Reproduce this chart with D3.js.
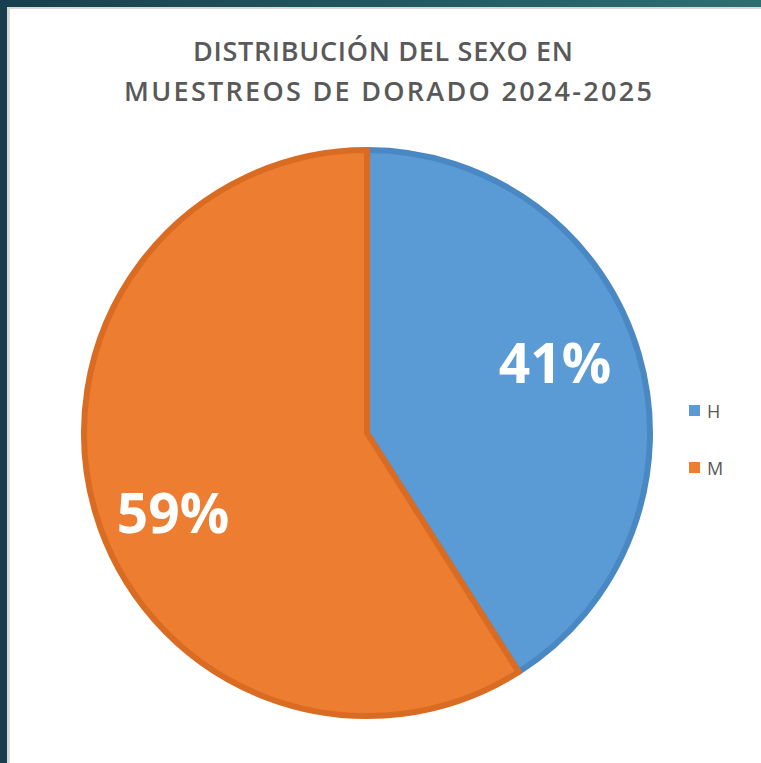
<!DOCTYPE html>
<html>
<head>
<meta charset="utf-8">
<script src="https://cdn.jsdelivr.net/npm/d3@7"></script>
<style>
  body { margin: 0; background: #ffffff; }
  svg { display: block; }
</style>
</head>
<body>
<div id="chart"></div>
<script>
// data
var categories = ["H", "M"];
var values = [41, 59];
var labels = ["41%", "59%"];
var titleLines = ["DISTRIBUCIÓN DEL SEXO EN", "MUESTREOS DE DORADO 2024-2025"];

var width = 761, height = 763;
var cx = 367, cy = 433, radius = 286;

var color = d3.scaleOrdinal()
    .domain(categories)
    .range(["#5b9bd5", "#ed7d31"]);
var stroke = d3.scaleOrdinal()
    .domain(categories)
    .range(["#4a88c4", "#d96c22"]);

var svg = d3.select("#chart")
    .append("svg")
    .attr("width", width)
    .attr("height", height);

// frame
var grad = svg.append("defs").append("linearGradient")
    .attr("id", "topband").attr("x1", "0").attr("x2", "1");
grad.append("stop").attr("offset", "0").attr("stop-color", "#173f4e");
grad.append("stop").attr("offset", "1").attr("stop-color", "#2e6f72");

svg.append("rect").attr("width", width).attr("height", height).attr("fill", "#ffffff");
svg.append("rect").attr("x", 0).attr("y", 0).attr("width", width).attr("height", 7).attr("fill", "url(#topband)");
svg.append("rect").attr("x", 0).attr("y", 0).attr("width", 7).attr("height", height).attr("fill", "#173f4e");
svg.append("rect").attr("x", 7).attr("y", 7).attr("width", 3).attr("height", height - 7).attr("fill", "#d9d9d9");
svg.append("rect").attr("x", 7).attr("y", 7).attr("width", width - 7).attr("height", 2).attr("fill", "#d9d9d9");

// title (widths)
var titleWidths = [380, 528];
svg.append("g").selectAll("text")
    .data(titleLines)
    .enter()
    .append("text")
    .attr("x", function(d, i) { return i === 0 ? 383 : 388; })
    .attr("y", function(d, i) { return 61 + i * 40; })
    .attr("text-anchor", "middle")
    .attr("textLength", function(d, i) { return titleWidths[i]; })
    .attr("lengthAdjust", "spacing")
    .style("font-family", "'Open Sans', sans-serif")
    .style("font-weight", "600")
    .style("font-size", "27px")
    .style("fill", "#595959")
    .text(function(d) { return d; });

// pie
var pie = d3.pie().sort(null).value(function(d) { return d; });
var arc = d3.arc().innerRadius(0).outerRadius(radius - 3);
var arcs = pie(values);

var g = svg.append("g").attr("transform", "translate(" + cx + "," + cy + ")");

g.selectAll("path")
    .data(arcs)
    .enter()
    .append("path")
    .attr("d", arc)
    .style("fill", function(d, i) { return color(categories[i]); })
    .style("stroke", function(d, i) { return stroke(categories[i]); })
    .style("stroke-width", 6)
    .style("stroke-linejoin", "round");

// labels
g.selectAll("text.pct")
    .data(arcs)
    .enter()
    .append("text")
    .attr("class", "pct")
    .attr("x", function(d, i) { return i === 0 ? 188 : -194; })
    .attr("y", function(d, i) { return i === 0 ? -50 : 100; })
    .attr("text-anchor", "middle")
    .style("font-family", "'Open Sans', sans-serif")
    .style("font-weight", "700")
    .style("font-size", "55px")
    .style("fill", "#ffffff")
    .text(function(d, i) { return labels[i]; });

// legend
var legend = svg.append("g").selectAll("g")
    .data(categories)
    .enter()
    .append("g")
    .attr("transform", function(d, i) { return "translate(689," + (405 + i * 57) + ")"; });

legend.append("rect")
    .attr("width", 11)
    .attr("height", 11)
    .style("fill", function(d) { return color(d); });

legend.append("text")
    .attr("x", 18)
    .attr("y", 13)
    .style("font-family", "'Open Sans', sans-serif")
    .style("font-size", "18px")
    .style("fill", "#595959")
    .text(function(d) { return d; });
</script>
</body>
</html>
